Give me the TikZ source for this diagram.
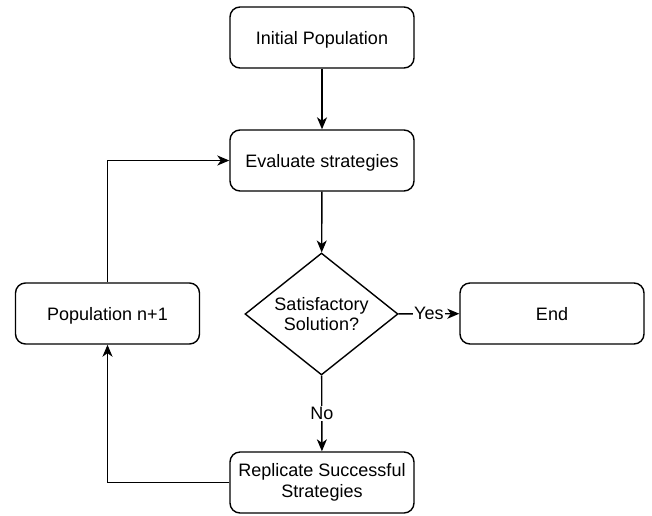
\documentclass[tikz,border=0pt]{standalone}
\usepackage{fontspec}
\setmainfont{Liberation Sans}
\usetikzlibrary{shapes.geometric,arrows.meta}
\begin{document}
\begin{tikzpicture}[x=1pt,y=-1pt,
  box/.style={draw, line width=1.4pt, rounded corners=10pt, minimum width=184pt, minimum height=61pt, align=center, inner sep=2pt, font=\fontsize{18}{20.5}\selectfont},
  onebox/.style={box, text depth=0pt},
  dia/.style={draw, line width=1.4pt, diamond, aspect=1.25, minimum width=153pt, minimum height=122pt, inner sep=0pt, align=center, font=\fontsize{18}{20.5}\selectfont},
  conn/.style={line width=1.4pt, -{Stealth[length=12pt,width=10pt,inset=3.5pt]}},
  lbl/.style={fill=white, inner sep=1pt, font=\fontsize{18}{20.5}\selectfont}]
\useasboundingbox (0,0) rectangle (652,515);
\node[onebox] (init) at (322,37.5) {Initial Population};
\node[onebox] (eval) at (322,160.5) {Evaluate strategies};
\node[dia] (sat) at (321.5,314) {Satisfactory\\Solution?};
\node[onebox] (end) at (552,313.5) {End};
\node[onebox] (pop) at (107.5,313.5) {Population n+1};
\node[box] (rep) at (322,482.5) {Replicate Successful\\Strategies};
\draw[conn] (init) -- (eval);
\draw[conn] (eval) -- (sat);
\draw[conn] (sat) -- node[lbl] {Yes} (end);
\draw[conn] (sat) -- node[lbl] {No} (rep);
\draw[conn] (rep.west) -| (pop.south);
\draw[conn] (pop.north) |- (eval.west);
\end{tikzpicture}
\end{document}
